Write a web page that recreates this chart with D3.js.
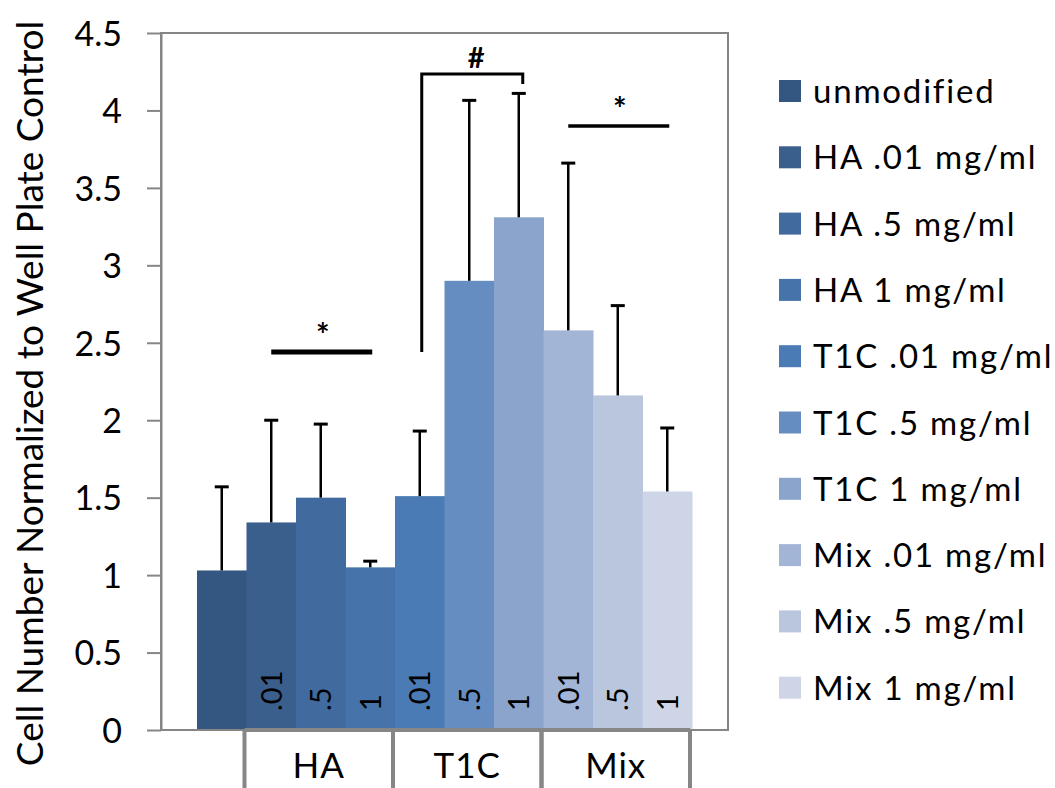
<!DOCTYPE html>
<html>
<head>
<meta charset="utf-8">
<script src="https://cdn.jsdelivr.net/npm/d3@7"></script>
<style>
  html, body { margin: 0; padding: 0; background: #fff; }
  svg { display: block; }
  text { font-family: Lato, "Open Sans", sans-serif; fill: #000; }
</style>
</head>
<body>
<svg id="chart" width="1055" height="788"></svg>
<script>
// Series (one bar each), in legend order
const categories = [
  "unmodified",
  "HA .01 mg/ml", "HA .5 mg/ml", "HA 1 mg/ml",
  "T1C .01 mg/ml", "T1C .5 mg/ml", "T1C 1 mg/ml",
  "Mix .01 mg/ml", "Mix .5 mg/ml", "Mix 1 mg/ml"
];
// Mean cell number normalized to well plate control
const means = [1.03, 1.34, 1.50, 1.05, 1.51, 2.90, 3.31, 2.58, 2.16, 1.54];
// Upper error bar length (SD)
const errors = [0.54, 0.66, 0.475, 0.04, 0.42, 1.165, 0.80, 1.08, 0.58, 0.41];
// Concentration text written inside each bar
const barLabels = ["", ".01", ".5", "1", ".01", ".5", "1", ".01", ".5", "1"];
// Group each bar belongs to on the category axis
const barGroups = [null, "HA", "HA", "HA", "T1C", "T1C", "T1C", "Mix", "Mix", "Mix"];
const groupNames = ["HA", "T1C", "Mix"];
const colors = ["#335781", "#3b5f8d", "#416b9f", "#4673a9", "#4a7bb5",
                "#668dc2", "#8aa4cc", "#a3b5d6", "#bac6de", "#cdd5e6"];
const yTicks = [0, 0.5, 1, 1.5, 2, 2.5, 3, 3.5, 4, 4.5];
const yTitle = "Cell Number Normalized to Well Plate Control";

// Significance markers: bars spanned, line level, symbol
const sigFrom = ["HA .01 mg/ml", "T1C .01 mg/ml", "Mix .01 mg/ml"];
const sigTo = ["HA 1 mg/ml", "T1C 1 mg/ml", "Mix 1 mg/ml"];
const sigLevel = [2.44, 4.235, 3.90];
const sigSymbol = ["*", "#", "*"];
// The bracketed T1C comparison drops its legs to these levels
const bracketLegLeft = 2.44;
const bracketLegRight = 4.17;

const svg = d3.select("#chart");
const plot = { left: 161, right: 728, top: 33, bottom: 730 };

const x = d3.scaleBand()
  .domain(categories)
  .range([plot.left, plot.right])
  .paddingInner(0)
  .paddingOuter(0.727);

const y = d3.scaleLinear()
  .domain([0, 4.5])
  .range([plot.bottom, plot.top]);

const gray = "#868686";

// Bars
svg.append("g").selectAll("rect")
  .data(categories)
  .join("rect")
  .attr("x", d => x(d))
  .attr("width", x.bandwidth() + 0.5)
  .attr("y", (d, i) => y(means[i]))
  .attr("height", (d, i) => y(0) - y(means[i]) + 1)
  .attr("fill", (d, i) => colors[i]);

// Concentration labels inside bars (rotated, reading upward)
svg.append("g").selectAll("text")
  .data(categories)
  .join("text")
  .attr("transform", (d, i) => `translate(${x(d) + x.bandwidth() / 2 + 10.5},711) rotate(-90)`)
  .attr("font-size", 29)
  .attr("text-anchor", "start")
  .text((d, i) => barLabels[i]);

// Error bars (upper only)
const eb = svg.append("g").attr("stroke", "#000").attr("stroke-width", 2.5);
categories.forEach((c, i) => {
  const cx = x(c) + x.bandwidth() / 2;
  eb.append("line")
    .attr("x1", cx).attr("x2", cx)
    .attr("y1", y(means[i])).attr("y2", y(means[i] + errors[i]));
  eb.append("line")
    .attr("x1", cx - 7).attr("x2", cx + 7)
    .attr("y1", y(means[i] + errors[i])).attr("y2", y(means[i] + errors[i]))
    .attr("stroke-width", 3);
});

// Plot area frame
svg.append("rect")
  .attr("x", plot.left).attr("y", plot.top)
  .attr("width", plot.right - plot.left)
  .attr("height", plot.bottom - plot.top)
  .attr("fill", "none")
  .attr("stroke", gray)
  .attr("stroke-width", 2);

// Value axis
const yAxis = svg.append("g")
  .attr("transform", `translate(${plot.left},0)`)
  .call(d3.axisLeft(y).tickValues(yTicks).tickSize(14).tickSizeOuter(0).tickPadding(25)
    .tickFormat(d3.format("")));
yAxis.select(".domain").attr("stroke", gray).attr("stroke-width", 2);
yAxis.selectAll(".tick line").attr("stroke", gray).attr("stroke-width", 2);
yAxis.selectAll(".tick text")
  .attr("font-family", "Lato, sans-serif")
  .attr("font-size", 34)
  .attr("fill", "#000")
  .attr("dy", "0.36em");

// Value axis title
svg.append("text")
  .attr("transform", `translate(43,${(plot.top + plot.bottom) / 2 + 12}) rotate(-90)`)
  .attr("text-anchor", "middle")
  .attr("font-size", 37)
  .text(yTitle);

// Group brackets on the category axis
const gb = svg.append("g").attr("stroke", gray).attr("stroke-width", 4).attr("fill", "none");
groupNames.forEach(g => {
  const members = categories.filter((c, i) => barGroups[i] === g);
  const x0 = x(members[0]) - 2;
  const x1 = x(members[members.length - 1]) + x.bandwidth() - 2;
  gb.append("line").attr("x1", x0).attr("x2", x1).attr("y1", plot.bottom).attr("y2", plot.bottom);
  gb.append("line").attr("x1", x0).attr("x2", x0).attr("y1", plot.bottom).attr("y2", 790);
  gb.append("line").attr("x1", x1).attr("x2", x1).attr("y1", plot.bottom).attr("y2", 790);
  svg.append("text")
    .attr("x", (x0 + x1) / 2)
    .attr("y", 778)
    .attr("text-anchor", "middle")
    .attr("font-size", 35)
    .attr("letter-spacing", 1)
    .text(g);
});

// Significance markers
const sg = svg.append("g").attr("stroke", "#000").attr("fill", "none");
sigSymbol.forEach((s, i) => {
  const xa = x(sigFrom[i]) + x.bandwidth() / 2;
  const xb = x(sigTo[i]) + x.bandwidth() / 2;
  const ly = y(sigLevel[i]);
  if (s === "#") {
    sg.append("path")
      .attr("d", `M${xa + 2},${y(bracketLegLeft)} V${ly} H${xb + 4} V${y(bracketLegRight)}`)
      .attr("stroke-width", 3);
    svg.append("text")
      .attr("x", (xa + xb) / 2 + 7).attr("y", ly - 6)
      .attr("text-anchor", "middle")
      .attr("font-size", 29).attr("font-weight", "bold")
      .text(s);
  } else {
    sg.append("line")
      .attr("x1", xa).attr("x2", xb + 2)
      .attr("y1", ly).attr("y2", ly)
      .attr("stroke-width", i === 0 ? 5 : 3.5);
    svg.append("text")
      .attr("x", (xa + xb) / 2 + 2).attr("y", ly - 5)
      .attr("text-anchor", "middle")
      .attr("font-size", 32).attr("font-weight", "bold")
      .text(s);
  }
});

// Legend
const legend = svg.append("g").attr("transform", "translate(779,0)");
categories.forEach((c, i) => {
  const cy = 91 + i * 66.3;
  legend.append("rect")
    .attr("x", 0).attr("y", cy - 11)
    .attr("width", 22).attr("height", 22)
    .attr("fill", colors[i]);
  legend.append("text")
    .attr("x", 34).attr("y", cy + 12)
    .attr("font-size", 33)
    .attr("letter-spacing", 1.8)
    .text(c);
});
</script>
</body>
</html>
